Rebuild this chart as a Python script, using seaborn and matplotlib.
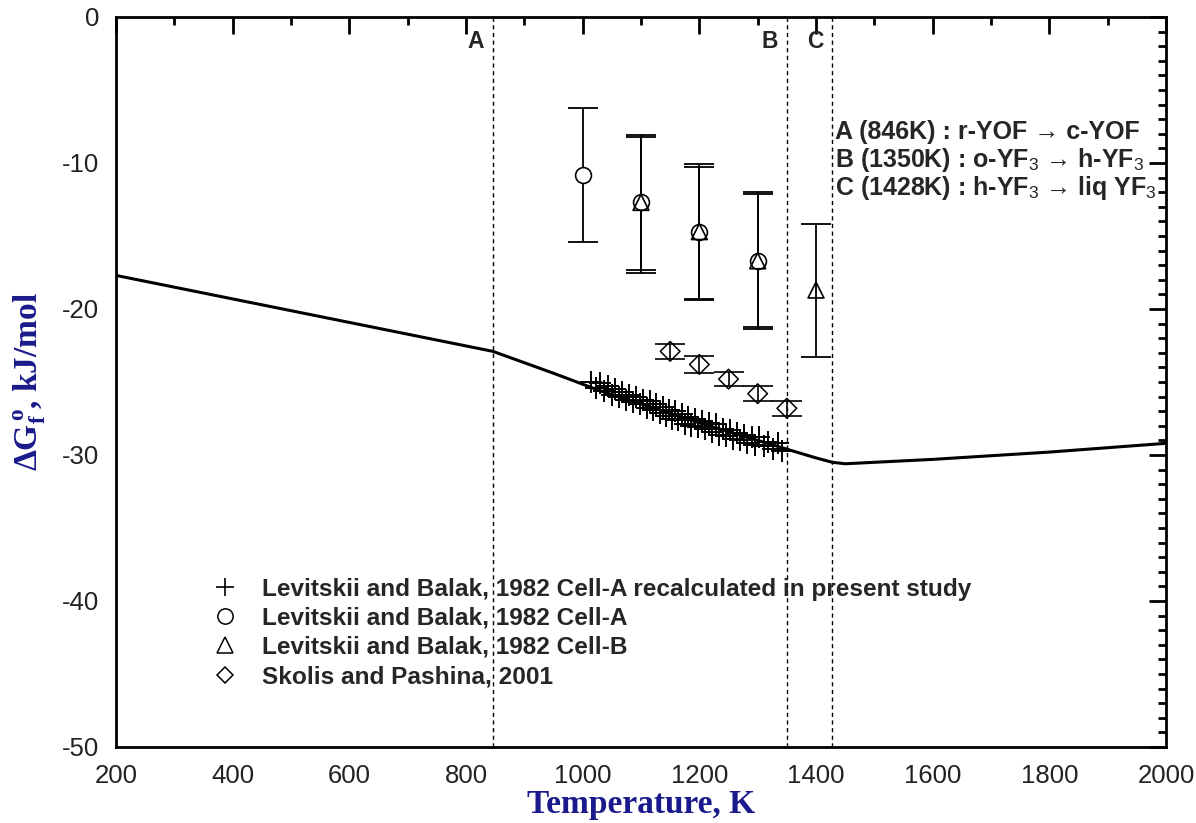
import numpy as np
import pandas as pd
import seaborn as sns
import matplotlib.pyplot as plt
from matplotlib.lines import Line2D
from matplotlib.ticker import MultipleLocator

# %% data
# assessed curve (K, kJ/mol)
curve_T = [200, 846, 950, 1030, 1100, 1200, 1300, 1350, 1400, 1428, 1450, 1600, 1800, 2000]
curve_G = [-17.7, -22.9, -24.4, -25.6, -26.5, -27.8, -29.0, -29.6, -30.2, -30.5, -30.6, -30.3, -29.8, -29.2]

# Levitskii and Balak, Cell-A recalculated
recalc_T = [1015, 1022, 1030, 1036, 1043, 1050, 1055, 1062, 1068, 1075, 1080, 1086, 1092, 1098,
            1104, 1110, 1115, 1120, 1126, 1132, 1138, 1143, 1148, 1153, 1158, 1164, 1170, 1175,
            1180, 1186, 1192, 1198, 1204, 1210, 1216, 1222, 1228, 1234, 1240, 1246, 1252, 1258,
            1264, 1270, 1276, 1282, 1290, 1296, 1302, 1310, 1318, 1326, 1334, 1342]
recalc_G = [-25.0, -25.4, -25.1, -25.6, -25.3, -25.9, -25.5, -26.0, -25.7, -26.2, -25.9, -26.4, -26.0, -26.5,
            -26.2, -26.8, -26.3, -26.9, -26.5, -27.1, -26.7, -27.3, -26.9, -27.5, -27.0, -27.6, -27.2, -27.9,
            -27.4, -28.0, -27.5, -28.1, -27.7, -28.2, -27.8, -28.4, -27.9, -28.6, -28.2, -28.7, -28.3, -28.9,
            -28.5, -29.0, -28.6, -29.2, -28.8, -29.3, -28.8, -29.4, -29.1, -29.6, -29.2, -29.7]

# Cell-A (circles)
cellA_T = [1000, 1100, 1200, 1300]
cellA_G = [-10.8, -12.7, -14.7, -16.7]
cellA_hi = [-6.2, -8.1, -10.1, -12.1]
cellA_lo = [-15.4, -17.3, -19.4, -21.2]

# Cell-B (triangles)
cellB_T = [1100, 1200, 1300, 1400]
cellB_G = [-12.7, -14.7, -16.7, -18.7]
cellB_hi = [-8.2, -10.3, -12.0, -14.2]
cellB_lo = [-17.5, -19.3, -21.4, -23.3]

# Skolis and Pashina (diamonds)
skolis_T = [1150, 1200, 1250, 1300, 1350]
skolis_G = [-22.9, -23.8, -24.8, -25.8, -26.8]
skolis_err = [0.5, 0.55, 0.5, 0.5, 0.5]

# transitions
trans_T = [846, 1350, 1428]
trans_lab = ['A', 'B', 'C']
notes = [r"A (846K) : r-YOF → c-YOF",
         r"B (1350K) : o-YF$_\mathrm{3}$ → h-YF$_\mathrm{3}$",
         r"C (1428K) : h-YF$_\mathrm{3}$ → liq YF$_\mathrm{3}$"]

legend_labels = ["Levitskii and Balak, 1982 Cell-A recalculated in present study",
                 "Levitskii and Balak, 1982 Cell-A",
                 "Levitskii and Balak, 1982 Cell-B",
                 "Skolis and Pashina, 2001"]

# %% style
sns.set_style("white")
plt.rcParams['font.family'] = ['Liberation Sans', 'DejaVu Sans']
plt.rcParams['axes.unicode_minus'] = False
plt.rcParams['mathtext.fontset'] = 'custom'
plt.rcParams['mathtext.rm'] = 'Liberation Sans'
plt.rcParams['mathtext.bf'] = 'Liberation Serif:bold'
plt.rcParams['mathtext.it'] = 'Liberation Serif:italic:bold'

navy = '#1a1a8c'

fig = plt.figure(figsize=(11.96, 8.23), dpi=100)
ax = fig.add_axes([116 / 1196, 1 - 747 / 823, 1050 / 1196, 730 / 823])

# curve
sns.lineplot(x=curve_T, y=curve_G, ax=ax, color='black', lw=2.2, sort=False)

# transitions
for t, lab in zip(trans_T, trans_lab):
    ax.axvline(t, color='black', lw=1, ls=(0, (3, 2.5)))
    ax.text(t - 30, -1.7, lab, ha='center', va='center', fontsize=16.5, fontweight='bold')

# recalculated crosses
sns.scatterplot(x=recalc_T, y=recalc_G, ax=ax, marker='+', s=260, color='black', linewidth=1.4)

# cell A / cell B error bars
ax.errorbar(cellA_T, cellA_G,
            yerr=[np.array(cellA_G) - np.array(cellA_lo), np.array(cellA_hi) - np.array(cellA_G)],
            fmt='none', ecolor='black', elinewidth=1.3, capsize=10.5, capthick=1.3)
ax.errorbar(cellB_T, cellB_G,
            yerr=[np.array(cellB_G) - np.array(cellB_lo), np.array(cellB_hi) - np.array(cellB_G)],
            fmt='none', ecolor='black', elinewidth=1.3, capsize=10.5, capthick=1.3)
ax.errorbar(skolis_T, skolis_G, yerr=skolis_err,
            fmt='none', ecolor='black', elinewidth=1.2, capsize=10.5, capthick=1.2)

sns.scatterplot(x=cellA_T, y=cellA_G, ax=ax, marker='o', s=130, facecolor='white',
                edgecolor='black', linewidth=1.2, zorder=4)
sns.scatterplot(x=cellB_T, y=cellB_G, ax=ax, marker='^', s=130, facecolor='none',
                edgecolor='black', linewidth=1.2, zorder=5)
sns.scatterplot(x=skolis_T, y=skolis_G, ax=ax, marker='D', s=100, facecolor='none',
                edgecolor='black', linewidth=1.1, zorder=5)

# notes
for i, s in enumerate(notes):
    ax.text(1433, -7.9 - 1.92 * i, s, ha='left', va='center', fontsize=18, fontweight='bold')

# legend
handles = [Line2D([], [], ls='none', marker='+', ms=13, mew=1.2, color='black'),
           Line2D([], [], ls='none', marker='o', ms=11, mfc='none', mec='black', mew=1.1),
           Line2D([], [], ls='none', marker='^', ms=11, mfc='none', mec='black', mew=1.1),
           Line2D([], [], ls='none', marker='D', ms=8, mfc='none', mec='black', mew=1.1)]
leg = ax.legend(handles, legend_labels, loc='upper left', bbox_to_anchor=(0.069, 0.262),
                frameon=False, handlelength=1.2, handletextpad=0.92, labelspacing=0.25,
                prop={'family': 'Liberation Sans', 'weight': 'bold', 'size': 17.6})

# axes
ax.set_xlim(200, 2000)
ax.set_ylim(-50, 0)
ax.xaxis.set_major_locator(MultipleLocator(200))
ax.xaxis.set_minor_locator(MultipleLocator(100))
ax.yaxis.set_major_locator(MultipleLocator(10))
ax.yaxis.set_minor_locator(MultipleLocator(1))
ax.tick_params(which='both', direction='in', top=True, right=True, width=2, colors='black',
               labelcolor='#222222', labelsize=18.5)
ax.tick_params(which='major', length=12, pad=12)
ax.tick_params(which='minor', length=6)
for sp in ax.spines.values():
    sp.set_linewidth(2)
    sp.set_color('black')

ax.set_xlabel("Temperature, K", fontfamily='Liberation Serif', fontweight='bold',
              fontsize=24, color=navy, labelpad=1)
ax.set_ylabel(r"$\mathbf{\Delta G_f^{\,o}}$, kJ/mol", fontfamily='Liberation Serif',
              fontweight='bold', fontsize=24, color=navy, labelpad=10)

plt.savefig('out.png', dpi=100)
